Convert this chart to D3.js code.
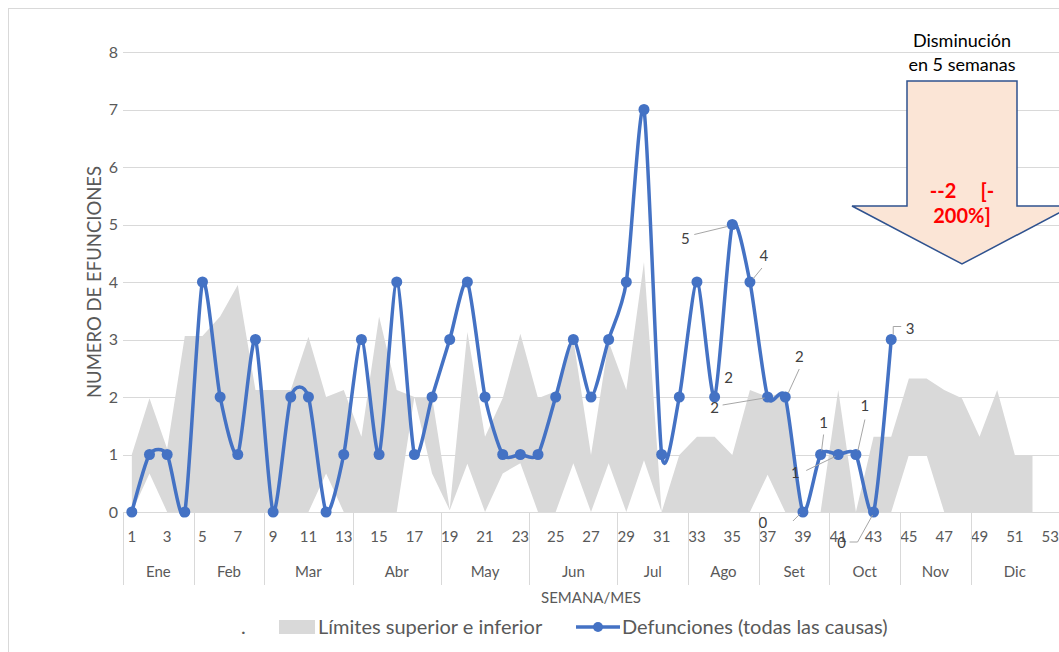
<!DOCTYPE html>
<html>
<head>
<meta charset="utf-8">
<script src="https://cdn.jsdelivr.net/npm/d3@7"></script>
<style>
  body { margin: 0; background: #fff; }
  svg { display: block; font-family: Lato, "Liberation Sans", sans-serif; }
</style>
</head>
<body>
<div id="chart"></div>
<script>
// semanas epidemiologicas
var weeks = [1, 2, 3, 4, 5, 6, 7, 8, 9, 10, 11, 12, 13, 14, 15, 16, 17, 18, 19, 20,
  21, 22, 23, 24, 25, 26, 27, 28, 29, 30, 31, 32, 33, 34, 35, 36, 37, 38, 39, 40,
  41, 42, 43, 44, 45, 46, 47, 48, 49, 50, 51, 52, 53];
var weekLabels = [1, 3, 5, 7, 9, 11, 13, 15, 17, 19, 21, 23, 25, 27, 29, 31, 33, 35, 37, 39, 41, 43, 45, 47, 49, 51, 53];
var months = ["Ene", "Feb", "Mar", "Abr", "May", "Jun", "Jul", "Ago", "Set", "Oct", "Nov", "Dic"];
var weeksPerMonth = [4, 4, 5, 5, 5, 5, 4, 4, 4, 4, 4, 5];
var yTicks = [0, 1, 2, 3, 4, 5, 6, 7, 8];

// defunciones por semana (sem 1 - 44)
var defunciones = [0, 1, 1, 0, 4, 2, 1, 3, 0, 2, 2, 0, 1, 3, 1, 4, 1, 2, 3, 4,
  2, 1, 1, 1, 2, 3, 2, 3, 4, 7, 1, 2, 4, 2, 5, 4, 2, 2, 0, 1,
  1, 1, 0, 3];

// limites del canal endemico (sem 1 - 52)
var limiteSuperior = [1.0, 1.98, 1.1, 3.06, 3.06, 3.4, 3.95, 2.12, 2.12, 2.12,
  3.05, 2.0, 2.12, 1.31, 3.4, 2.12, 2.0, 2.0, 0.05, 3.13,
  1.31, 1.98, 3.1, 1.98, 2.1, 3.0, 0.99, 2.96, 2.12, 4.35,
  0, 0.99, 1.31, 1.31, 0.99, 2.12, 2.0, 2.09, 0, 0,
  2.12, 0, 1.31, 1.31, 2.32, 2.32, 2.12, 1.98, 1.31, 2.12,
  0.99, 0.99];
var limiteInferior = [0, 0.67, 0, 0, 0, 0, 0, 0, 0, 0,
  0, 0.67, 0, 0, 0, 0, 2.0, 0.67, 0.03, 0.84,
  0, 0.67, 0.85, 0, 0, 0.85, 0, 0.85, 0, 0.9,
  0, 0, 0, 0, 0, 0, 0.65, 0, 0, 0,
  0, 0, 0, 0, 0.99, 0.99, 0, 0, 0, 0,
  0, 0];

var W = 1059, H = 652;
var plotLeft = 123, plotRight = 1059, plotTop = 52, plotBottom = 512;

var svg = d3.select("#chart").append("svg")
  .attr("width", W)
  .attr("height", H);

// marco del grafico
svg.append("rect")
  .attr("x", 8.5).attr("y", 8.5)
  .attr("width", 1100).attr("height", 1000)
  .attr("fill", "none")
  .attr("stroke", "#d9d9d9");

var x = d3.scaleBand().domain(weeks).range([plotLeft, plotRight]).padding(0);
var cx = function (w) { return x(w) + x.bandwidth() / 2; };
var y = d3.scaleLinear().domain([0, 8]).range([plotBottom, plotTop]);

// grid
svg.append("g")
  .selectAll("line")
  .data(yTicks)
  .enter().append("line")
  .attr("x1", plotLeft).attr("x2", plotRight)
  .attr("y1", function (d) { return Math.round(y(d)) + 0.5; })
  .attr("y2", function (d) { return Math.round(y(d)) + 0.5; })
  .attr("stroke", "#d9d9d9")
  .attr("stroke-width", 1);

// y axis labels
var yAxis = d3.axisLeft(y).tickValues(yTicks).tickSize(0).tickPadding(0);
var gy = svg.append("g")
  .attr("transform", "translate(" + (plotLeft - 5) + ",0)")
  .call(yAxis);
gy.select(".domain").remove();
gy.selectAll("text")
  .attr("fill", "#595959")
  .style("font-size", "16px")
  .style("font-family", "Lato, sans-serif");

// band
var bandData = limiteSuperior.map(function (u, i) {
  return { week: weeks[i], upper: u, lower: limiteInferior[i] };
});
var area = d3.area()
  .x(function (d) { return cx(d.week); })
  .y0(function (d) { return y(d.lower); })
  .y1(function (d) { return y(d.upper); });
svg.append("path")
  .datum(bandData)
  .attr("d", area)
  .attr("fill", "#d9d9d9");

// x axis: weeks + months
var xaxis = svg.append("g");

xaxis.selectAll(".wk")
  .data(weekLabels)
  .enter().append("text")
  .attr("class", "wk")
  .attr("x", function (d) { return cx(d); })
  .attr("y", 542)
  .attr("text-anchor", "middle")
  .attr("fill", "#595959")
  .style("font-size", "15px")
  .text(function (d) { return d; });

var monthSpans = [];
var acc = 0;
months.forEach(function (m, i) {
  monthSpans.push({ name: m, start: weeks[acc], end: weeks[acc + weeksPerMonth[i] - 1] });
  acc += weeksPerMonth[i];
});

xaxis.selectAll(".div")
  .data([weeks[0]].concat(monthSpans.slice(1).map(function (d) { return d.start; })))
  .enter().append("line")
  .attr("x1", function (d) { return Math.round(x(d)) + 0.5; })
  .attr("x2", function (d) { return Math.round(x(d)) + 0.5; })
  .attr("y1", plotBottom)
  .attr("y2", 585)
  .attr("stroke", "#d9d9d9");

xaxis.selectAll(".mes")
  .data(monthSpans)
  .enter().append("text")
  .attr("x", function (d) { return (x(d.start) + x(d.end) + x.bandwidth()) / 2; })
  .attr("y", 577)
  .attr("text-anchor", "middle")
  .attr("fill", "#595959")
  .style("font-size", "15px")
  .text(function (d) { return d.name; });

// titles
svg.append("text")
  .attr("x", 591).attr("y", 603)
  .attr("text-anchor", "middle")
  .attr("fill", "#595959")
  .style("font-size", "15px")
  .text("SEMANA/MES");

svg.append("text")
  .attr("transform", "translate(101,282) rotate(-90)")
  .attr("text-anchor", "middle")
  .attr("fill", "#595959")
  .style("font-size", "18.5px")
  .text("NUMERO DE EFUNCIONES");

// serie de defunciones
var lineData = defunciones.map(function (v, i) { return { week: weeks[i], value: v }; });
var line = d3.line()
  .x(function (d) { return cx(d.week); })
  .y(function (d) { return y(d.value); })
  .curve(d3.curveCardinal.tension(0.3));

svg.append("path")
  .datum(lineData)
  .attr("d", line)
  .attr("fill", "none")
  .attr("stroke", "#4472c4")
  .attr("stroke-width", 3.5)
  .attr("stroke-linejoin", "round");

svg.append("g")
  .selectAll("circle")
  .data(lineData)
  .enter().append("circle")
  .attr("cx", function (d) { return cx(d.week); })
  .attr("cy", function (d) { return y(d.value); })
  .attr("r", 5.5)
  .attr("fill", "#4472c4");

// etiquetas de datos (semana, desplazamiento de etiqueta, linea guia)
var dataLabels = [
  { week: 34, dx: 14, dy: -19, lead: null },
  { week: 35, dx: -47, dy: 14, lead: [[-38, 10], [-5, 2]] },
  { week: 36, dx: 14, dy: -26, lead: [[12, -14], [3, -3]] },
  { week: 37, dx: -53, dy: 11, lead: [[-45, 8], [-3, 1]] },
  { week: 38, dx: 14, dy: -40, lead: [[14, -28], [3, -4]] },
  { week: 39, dx: -40, dy: 11, lead: [[-10, 9], [-3, 2]] },
  { week: 40, dx: 3, dy: -32, lead: [[3, -20], [1, -4]] },
  { week: 41, dx: -43, dy: 18, lead: [[-32, 16], [-3, 2]] },
  { week: 42, dx: 9, dy: -49, lead: [[9, -35], [2, -4]] },
  { week: 43, dx: -32, dy: 31, lead: [[-24, 30], [-16, 30], [-1, 3]] },
  { week: 44, dx: 19, dy: -11, lead: [[2, -5], [2, -13], [10, -13]] }
];

var labelG = svg.append("g");
dataLabels.forEach(function (l) {
  var px = cx(l.week), py = y(defunciones[l.week - 1]);
  if (l.lead) {
    labelG.append("path")
      .attr("d", d3.line()(l.lead.map(function (p) { return [px + p[0], py + p[1]]; })))
      .attr("fill", "none")
      .attr("stroke", "#a6a6a6")
      .attr("stroke-width", 1);
  }
  labelG.append("text")
    .attr("x", px + l.dx)
    .attr("y", py + l.dy + 5)
    .attr("text-anchor", "middle")
    .attr("fill", "#404040")
    .style("font-size", "15px")
    .text(defunciones[l.week - 1]);
});

// flecha de disminucion
var arrowX = 962;
var arrow = svg.append("g");
arrow.append("path")
  .attr("d", "M" + (arrowX - 55) + ",81 L" + (arrowX + 55) + ",81 L" + (arrowX + 55) + ",206 L" +
    (arrowX + 110) + ",206 L" + arrowX + ",264 L" + (arrowX - 110) + ",206 L" + (arrowX - 55) + ",206 Z")
  .attr("fill", "#fbe5d6")
  .attr("stroke", "#2f528f")
  .attr("stroke-width", 1.5);

arrow.append("text")
  .attr("x", arrowX).attr("y", 47)
  .attr("text-anchor", "middle")
  .attr("fill", "#000")
  .style("font-size", "18px")
  .text("Disminución");
arrow.append("text")
  .attr("x", arrowX).attr("y", 71)
  .attr("text-anchor", "middle")
  .attr("fill", "#000")
  .style("font-size", "18px")
  .text("en 5 semanas");
arrow.append("text")
  .attr("x", arrowX).attr("y", 198)
  .attr("text-anchor", "middle")
  .attr("fill", "#ff0000")
  .style("font-size", "20px")
  .style("font-weight", "bold")
  .attr("xml:space", "preserve")
  .text("--2     [-");
arrow.append("text")
  .attr("x", arrowX).attr("y", 223)
  .attr("text-anchor", "middle")
  .attr("fill", "#ff0000")
  .style("font-size", "20px")
  .style("font-weight", "bold")
  .text("200%]");

// leyenda
var legend = svg.append("g").attr("transform", "translate(0,627)");
legend.append("text")
  .attr("x", 241).attr("y", 7)
  .attr("fill", "#595959")
  .style("font-size", "20px")
  .text(".");
legend.append("rect")
  .attr("x", 279).attr("y", -7)
  .attr("width", 36).attr("height", 14)
  .attr("fill", "#d9d9d9");
legend.append("text")
  .attr("x", 318).attr("y", 7)
  .attr("fill", "#595959")
  .style("font-size", "20px")
  .text("Límites superior e inferior");
legend.append("line")
  .attr("x1", 576).attr("x2", 620)
  .attr("y1", 0).attr("y2", 0)
  .attr("stroke", "#4472c4")
  .attr("stroke-width", 3.5);
legend.append("circle")
  .attr("cx", 598).attr("cy", 0)
  .attr("r", 5)
  .attr("fill", "#4472c4");
legend.append("text")
  .attr("x", 622).attr("y", 7)
  .attr("fill", "#595959")
  .style("font-size", "20px")
  .text("Defunciones (todas las causas)");
</script>
</body>
</html>
